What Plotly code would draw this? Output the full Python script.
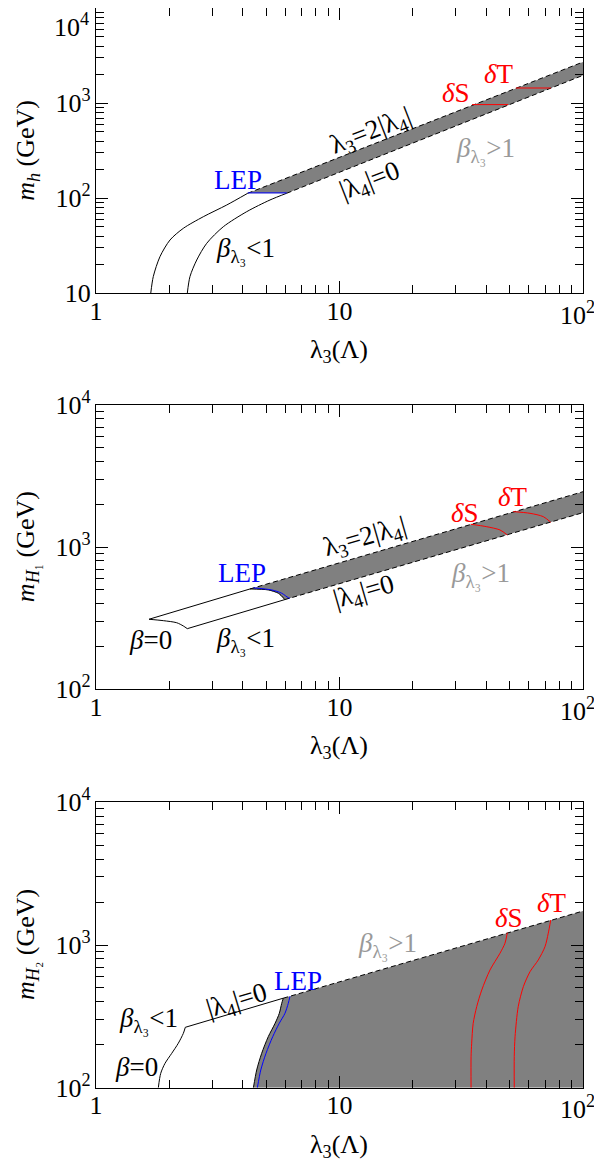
import math
import plotly.graph_objects as go

# The page body has an 8px margin, so the figure is sized to end at the window edge
# and reference pixel positions are shifted by OFF.
OFF = 8
W, H = 602 - OFF, 1169 - OFF

# ---------------- Panel 1 : m_h ----------------
P1_UPCURVE_L = [1.678, 1.719, 1.831, 2.013, 2.283, 2.759, 3.442, 4.20]
P1_UPCURVE_M = [10, 15.0, 24.3, 36.4, 48.3, 64.0, 85.0, 113]
P1_LOCURVE_L = [2.371, 2.432, 2.592, 2.849, 3.333, 4.158, 5.183, 6.07]
P1_LOCURVE_M = [10, 15.0, 22.4, 33.6, 50.2, 72.3, 96.0, 113]
P1_UPLINE_L = [4.20, 100]
P1_UPLINE_M = [113, 2720]
P1_LOLINE_L = [6.07, 100]
P1_LOLINE_M = [113, 1970]
P1_LEP_L = [4.20, 6.07]
P1_LEP_M = [114, 114]
P1_DS_L = [35.0, 49.3]
P1_DS_M = [969, 969]
P1_DT_L = [53.0, 73.8]
P1_DT_M = [1449, 1449]

# ---------------- Panel 2 : m_H1 ----------------
P2_UPSOLID_L = [1.651, 4.29]
P2_UPSOLID_M = [311, 508]
P2_UPDASH_L = [4.29, 100]
P2_UPDASH_M = [508, 2455]
P2_BETA0_L = [1.651, 1.890, 2.145, 2.283, 2.371]
P2_BETA0_M = [311, 304, 294, 279, 267]
P2_LOSOLID_L = [2.371, 5.95]
P2_LOSOLID_M = [267, 427]
P2_LODASH_L = [5.95, 100]
P2_LODASH_M = [427, 1749]
P2_EDGE_L = [4.29, 5.10, 5.61, 5.88, 5.95]
P2_EDGE_M = [508, 500, 474, 440, 427]
P2_LEP_L = [4.43, 5.27, 5.79, 6.16, 6.26]
P2_LEP_M = [517, 500, 474, 441, 437]
P2_DS_L = [34.6, 40.2, 45.6, 48.9]
P2_DS_M = [1449, 1393, 1321, 1218]
P2_DT_L = [51.7, 60.6, 68.7, 73.7]
P2_DT_M = [1778, 1730, 1639, 1496]

# ---------------- Panel 3 : m_H2 ----------------
P3_UPSOLID_L = [2.327, 5.88]
P3_UPSOLID_M = [265, 424]
P3_UPDASH_L = [5.88, 100]
P3_UPDASH_M = [424, 1730]
P3_BETA0_L = [2.327, 2.283, 2.178, 2.046, 1.92, 1.844, 1.803]
P3_BETA0_M = [265, 240, 205, 174, 148, 126, 100]
P3_EDGE_L = [4.43, 4.57, 4.79, 5.10, 5.44, 5.66, 5.79, 5.88]
P3_EDGE_M = [100, 133, 174, 228, 283, 332, 390, 424]
P3_LEP_L = [4.60, 4.75, 4.99, 5.32, 5.66, 5.97, 6.16, 6.26]
P3_LEP_M = [100, 133, 174, 228, 283, 332, 390, 437]
P3_DS_L = [34.7, 34.7, 34.9, 35.4, 36.6, 38.4, 41.5, 45.6, 47.8, 48.9]
P3_DS_M = [100, 165, 205, 282, 370, 484, 668, 875, 1028, 1219]
P3_DT_L = [52.2, 52.2, 52.6, 54.2, 56.9, 60.6, 65.5, 69.8, 72.0, 73.7]
P3_DT_M = [100, 165, 228, 370, 511, 650, 785, 973, 1208, 1496]

X_RANGE = [1, 100]
Y_RANGES = [[10, 1e4], [100, 1e4], [100, 1e4]]
X_TICKS = [1, 10, 100]
X_TICKTEXT = ["1", "10", "10<sup>2</sup>"]
Y_TICKS = [10, 100, 1000, 10000]
Y_TICKTEXT = ["10", "10<sup>2</sup>", "10<sup>3</sup>", "10<sup>4</sup>"]
Y_TITLES = ["<i>m<sub>h</sub></i> (GeV)",
            "<i>m</i><sub><i>H</i>₁</sub> (GeV)",
            "<i>m</i><sub><i>H</i>₂</sub> (GeV)"]
X_TITLE = "λ<sub>3</sub>(Λ)"

GRAY = "#808080"
RED = "#ff0000"
BLUE = "#0000ff"
LGRAY = "#999999"
FONT = "Liberation Serif"
DASH = "5px,3px"
TICKSIZE = 26
ANNSIZE = 27

# plot-area pixel boxes in window pixels: (left, top, right, bottom)
BOXES = [(96, 8.3, 583, 293.3), (96, 405, 583, 689.3), (96, 802.3, 583, 1087.7)]


def fx(px):
    return (px - OFF) / W


def fy(py):
    return 1 - (py - OFF) / H


fig = go.Figure()


def axn(k, letter):
    return letter + ("" if k == 1 else str(k))


def line(xs, ys, k, color="black", dash=None, width=1, smooth=False):
    fig.add_trace(go.Scatter(x=xs, y=ys, mode="lines", xaxis=axn(k, "x"), yaxis=axn(k, "y"),
                             line=dict(color=color, width=width, dash=dash,
                                       shape="spline" if smooth else "linear",
                                       smoothing=0.8 if smooth else None),
                             hoverinfo="skip", showlegend=False))


def fill(xs, ys, k):
    fig.add_trace(go.Scatter(x=xs, y=ys, mode="lines", fill="toself", fillcolor=GRAY,
                             xaxis=axn(k, "x"), yaxis=axn(k, "y"),
                             line=dict(width=0, color=GRAY), hoverinfo="skip", showlegend=False))


# Panel 1
fill(P1_UPLINE_L + P1_LOLINE_L[::-1], P1_UPLINE_M + P1_LOLINE_M[::-1], 1)
line(P1_UPCURVE_L, P1_UPCURVE_M, 1, smooth=True)
line(P1_LOCURVE_L, P1_LOCURVE_M, 1, smooth=True)
line(P1_UPLINE_L, P1_UPLINE_M, 1, dash=DASH)
line(P1_LOLINE_L, P1_LOLINE_M, 1, dash=DASH)
line(P1_LEP_L, P1_LEP_M, 1, color=BLUE)
line(P1_DS_L, P1_DS_M, 1, color=RED)
line(P1_DT_L, P1_DT_M, 1, color=RED)

# Panel 2
fill(P2_EDGE_L + P2_LODASH_L[1:] + P2_UPDASH_L[::-1],
     P2_EDGE_M + P2_LODASH_M[1:] + P2_UPDASH_M[::-1], 2)
line(P2_UPSOLID_L, P2_UPSOLID_M, 2)
line(P2_UPDASH_L, P2_UPDASH_M, 2, dash=DASH)
line(P2_BETA0_L, P2_BETA0_M, 2, smooth=True)
line(P2_LOSOLID_L, P2_LOSOLID_M, 2)
line(P2_LODASH_L, P2_LODASH_M, 2, dash=DASH)
line(P2_EDGE_L, P2_EDGE_M, 2, smooth=True)
line(P2_LEP_L, P2_LEP_M, 2, color=BLUE, smooth=True)
line(P2_DS_L, P2_DS_M, 2, color=RED, smooth=True)
line(P2_DT_L, P2_DT_M, 2, color=RED, smooth=True)

# Panel 3
fill(P3_EDGE_L + P3_UPDASH_L[1:] + [X_RANGE[1]],
     P3_EDGE_M + P3_UPDASH_M[1:] + [Y_RANGES[2][0]], 3)
line(P3_UPSOLID_L, P3_UPSOLID_M, 3)
line(P3_UPDASH_L, P3_UPDASH_M, 3, dash=DASH)
line(P3_BETA0_L, P3_BETA0_M, 3, smooth=True)
line(P3_EDGE_L, P3_EDGE_M, 3, smooth=True)
line(P3_LEP_L, P3_LEP_M, 3, color=BLUE, smooth=True)
line(P3_DS_L, P3_DS_M, 3, color=RED, smooth=True)
line(P3_DT_L, P3_DT_M, 3, color=RED, smooth=True)

MINOR = [m * 10 ** e for e in range(0, 4) for m in range(2, 10)]

layout = dict(width=W, height=H, autosize=False, margin=dict(l=0, r=0, t=0, b=0, pad=0),
              paper_bgcolor="white", plot_bgcolor="white", template="none",
              font=dict(family=FONT, size=TICKSIZE, color="black"))

for i, (l, t, r, b) in enumerate(BOXES):
    k = i + 1
    common = dict(type="log", automargin=False, showgrid=False, zeroline=False, showline=True,
                  linecolor="black", linewidth=1.2, mirror="allticks", ticks="inside",
                  ticklen=12, tickwidth=1, tickcolor="black",
                  tickfont=dict(family=FONT, size=TICKSIZE, color="black"),
                  minor=dict(ticks="inside", ticklen=8, tickwidth=1, tickcolor="black",
                             tickmode="array", tickvals=MINOR, showgrid=False))
    # the right-most x label is drawn as an annotation so that it stays inside the window
    xtext = X_TICKTEXT[:-1] + [""]
    layout[axn(k, "xaxis")] = dict(common, domain=[fx(l), fx(r)], anchor=axn(k, "y"),
                                   range=[math.log10(X_RANGE[0]), math.log10(X_RANGE[1])],
                                   tickmode="array", tickvals=X_TICKS, ticktext=xtext,
                                   ticklabelstandoff=-6)
    yr = Y_RANGES[i]
    yvals = [v for v in Y_TICKS if v >= yr[0]]
    ytext = [s for v, s in zip(Y_TICKS, Y_TICKTEXT) if v >= yr[0]]
    if k == 1:
        # the top label would be clipped at the page top; it is drawn as an annotation below
        ytext = ytext[:-1] + [""]
    layout[axn(k, "yaxis")] = dict(common, domain=[fy(b), fy(t)], anchor=axn(k, "x"),
                                   range=[math.log10(yr[0]), math.log10(yr[1])],
                                   tickmode="array", tickvals=yvals, ticktext=ytext,
                                   ticklabelstandoff=-1)

fig.update_layout(**layout)


def ann(text, x, y, color="black", angle=0, size=ANNSIZE, xanchor="center", yanchor="middle"):
    fig.add_annotation(text=text, x=fx(x), y=fy(y), xref="paper", yref="paper",
                       showarrow=False, textangle=angle, xanchor=xanchor, yanchor=yanchor,
                       borderpad=0, font=dict(family=FONT, size=size, color=color))


BLT = "<i>β</i><sub>λ₃</sub>&lt;1"
BGT = "<i>β</i><sub>λ₃</sub>&gt;1"
L32 = "λ<sub>3</sub>=2|λ<sub>4</sub>|"
L40 = "|λ<sub>4</sub>|=0"

# top tick label of panel 1 and right-most x labels
ann(Y_TICKTEXT[-1], 90, OFF, size=TICKSIZE, xanchor="right", yanchor="top")
for (l, t, r, b) in BOXES:
    ann(X_TICKTEXT[-1], 596, b + 20, size=TICKSIZE, xanchor="right")

# Panel 1 labels
ann("LEP", 238, 180, BLUE)
ann(BLT, 245, 250)
ann(L32, 371, 132, angle=-21.5)
ann(L40, 370, 182, angle=-21.5)
ann(BGT, 485, 150, LGRAY)
ann("<i>δ</i>S", 456, 93, RED)
ann("<i>δ</i>T", 499, 74, RED)

# Panel 2 labels
ann("LEP", 242, 573, BLUE)
ann("<i>β</i>=0", 150, 640)
ann(BLT, 245, 640)
ann(L32, 365, 538, angle=-16)
ann(L40, 364, 593, angle=-16)
ann(BGT, 480, 575, LGRAY)
ann("<i>δ</i>S", 465, 513, RED)
ann("<i>δ</i>T", 513, 497, RED)

# Panel 3 labels
ann("LEP", 298, 981, BLUE)
ann(BLT, 148, 1020)
ann("<i>β</i>=0", 136, 1067)
ann(L40, 237, 1002, angle=-17)
ann(BGT, 387, 945, LGRAY)
ann("<i>δ</i>S", 509, 918, RED)
ann("<i>δ</i>T", 552, 903, RED)

# axis titles
for (l, t, r, b), yt in zip(BOXES, Y_TITLES):
    ann(yt, 27, (t + b) / 2, angle=-90, size=TICKSIZE)
    ann(X_TITLE, 339, b + 58, size=TICKSIZE)

fig.write_html("out.html")
